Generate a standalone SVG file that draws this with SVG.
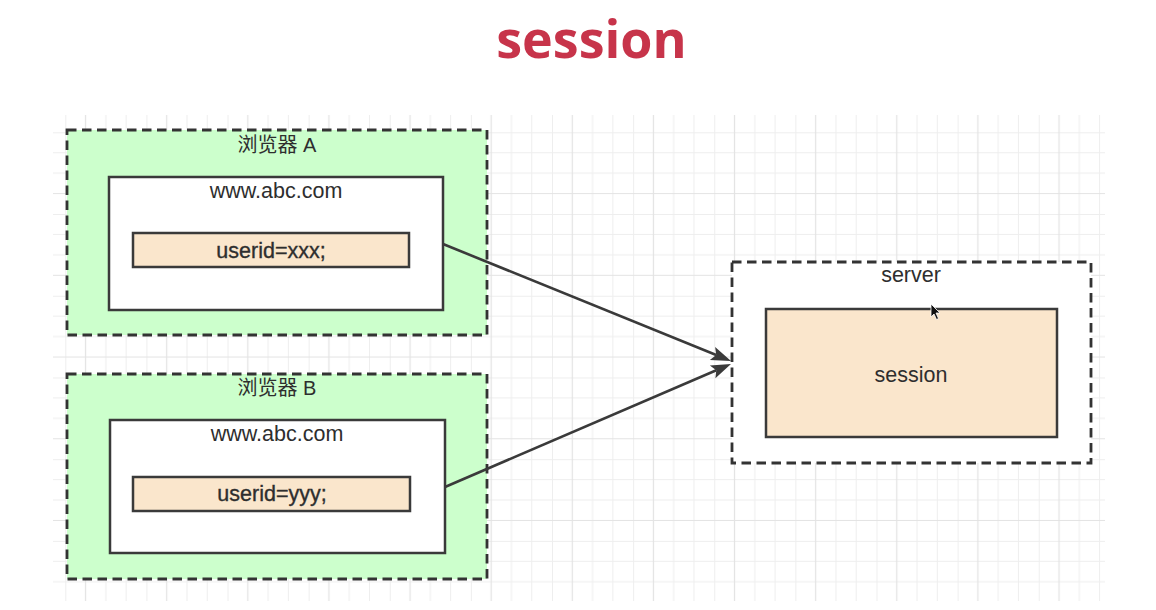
<svg xmlns="http://www.w3.org/2000/svg" width="1156" height="610" viewBox="0 0 1156 610">
  <style>
    .dash { fill: #ccffcc; stroke: #333; stroke-width: 2.8; stroke-dasharray: 9.5 5.5; }
    .dashw { fill: #ffffff; stroke: #333; stroke-width: 2.8; stroke-dasharray: 9.5 5.5; }
    .box { fill: #ffffff; stroke: #3a3a3a; stroke-width: 2.5; }
    .cookie { fill: #fae6cc; stroke: #3a3a3a; stroke-width: 2.5; }
    .t { font-family: "Liberation Sans", Arial, sans-serif; font-size: 21.5px; fill: #2e2e2e; text-anchor: middle; }
    .tb { stroke: #2e2e2e; stroke-width: 0.35; }
    .cjk { font-family: "Liberation Sans", "Noto Sans CJK SC", sans-serif; font-size: 20px; fill: #2e2e2e; text-anchor: middle; }
    .edge { fill: none; stroke: #3a3a3a; stroke-width: 2.6; }
  </style>
  <defs>
    <pattern id="grid" patternUnits="userSpaceOnUse" x="65.3" y="132.3" width="81.12" height="81.72">
      <path d="M0.5,0V81.72M40.56,0V81.72M60.84,0V81.72M0,0.5H81.12M0,20.43H81.12M0,40.86H81.12" stroke="#eeeeee" stroke-width="1" fill="none"/>
      <path d="M20.28,0V81.72M0,61.29H81.12" stroke="#e3e3e3" stroke-width="1.2" fill="none"/>
    </pattern>
    <marker id="arrow" markerUnits="userSpaceOnUse" markerWidth="22" markerHeight="16" refX="4" refY="7" orient="auto" overflow="visible">
      <path d="M0,0 L20,7 L0,14 L4,7 Z" fill="#3a3a3a"/>
    </marker>
  </defs>
  <rect width="1156" height="610" fill="#ffffff"/>
  <g id="title">
    <text x="591.5" y="58" font-family="'Open Sans', 'Noto Sans', sans-serif" font-weight="bold" font-size="52" fill="#c7344a" text-anchor="middle">session</text>
  </g>
  <g id="grid-bg">
    <rect x="53" y="115" width="1052" height="486" fill="url(#grid)"/>
  </g>
  <g id="browser-a">
    <rect class="dash" x="67" y="130" width="420" height="205"/>
    <text class="cjk" x="277" y="152">浏览器 A</text>
    <rect class="box" x="109" y="177" width="334" height="133"/>
    <text class="t" x="276" y="198">www.abc.com</text>
    <g id="cookie-a">
      <rect class="cookie" x="133" y="233" width="276" height="34"/>
      <text class="t tb" x="271" y="258" font-size="22">userid=xxx;</text>
    </g>
  </g>
  <g id="browser-b">
    <rect class="dash" x="67" y="374" width="420" height="205"/>
    <text class="cjk" x="277" y="395">浏览器 B</text>
    <rect class="box" x="110" y="420" width="335" height="133"/>
    <text class="t" x="277" y="441">www.abc.com</text>
    <g id="cookie-b">
      <rect class="cookie" x="133" y="477" width="277" height="34"/>
      <text class="t tb" x="272" y="501" font-size="22">userid=yyy;</text>
    </g>
  </g>
  <g id="server">
    <rect class="dashw" x="732" y="262" width="359" height="201"/>
    <text class="t" x="911" y="282">server</text>
    <g id="session">
      <rect class="cookie" x="766" y="309" width="291" height="128"/>
      <text class="t" x="911" y="382">session</text>
    </g>
  </g>
  <g id="connectors">
    <line class="edge" x1="443" y1="244" x2="716.2" y2="355" marker-end="url(#arrow)"/>
    <line class="edge" x1="445" y1="487" x2="716.3" y2="370.3" marker-end="url(#arrow)"/>
  </g>
  <g id="cursor">
    <path d="M931,304 L931,317 L934,314 L936.5,319.5 L938.5,318.5 L936,313 L940,313 Z" fill="#111" stroke="#fff" stroke-width="0.8"/>
  </g>
</svg>
